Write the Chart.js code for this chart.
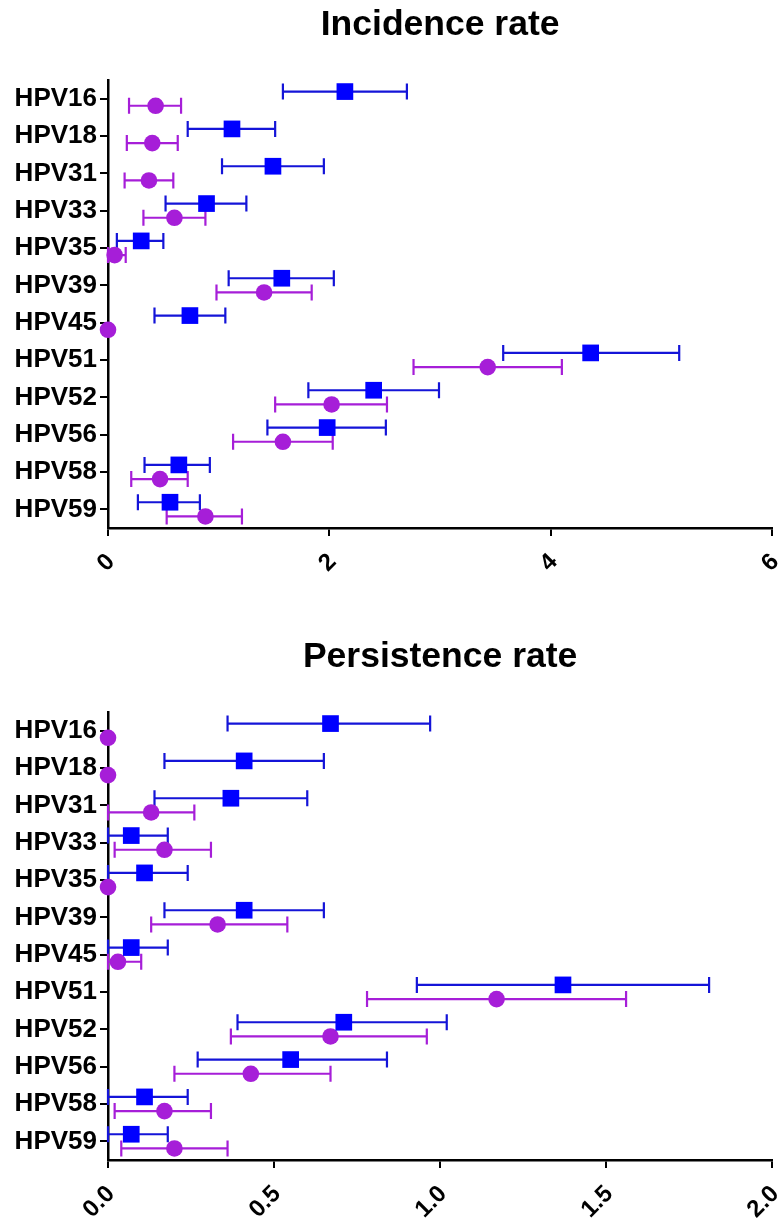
<!DOCTYPE html>
<html>
<head>
<meta charset="utf-8">
<script src="https://cdn.jsdelivr.net/npm/chart.js@4.4.1/dist/chart.umd.min.js"></script>
<style>
  html, body { margin: 0; padding: 0; background: #fff; }
  #wrap { position: relative; width: 784px; height: 1218px; overflow: hidden; }
  .panel { position: absolute; left: 0; width: 784px; }
</style>
</head>
<body>
<div id="wrap">
  <div class="panel" style="top:0;height:630px"><canvas id="incidence" width="784" height="630"></canvas></div>
  <div class="panel" style="top:630px;height:588px"><canvas id="persistence" width="784" height="588"></canvas></div>
</div>
<script>
// HPV genotypes, top to bottom
const genotypes = ['HPV16', 'HPV18', 'HPV31', 'HPV33', 'HPV35', 'HPV39', 'HPV45', 'HPV51', 'HPV52', 'HPV56', 'HPV58', 'HPV59'];

// Incidence rate: estimate with lower / upper limits (null = no interval)
const incBlue      = [2.14, 1.12, 1.49, 0.89, 0.30, 1.57, 0.74, 4.36, 2.40, 1.98, 0.64, 0.56];
const incBlueLow   = [1.58, 0.72, 1.03, 0.52, 0.08, 1.09, 0.42, 3.57, 1.81, 1.44, 0.33, 0.27];
const incBlueHigh  = [2.70, 1.51, 1.95, 1.25, 0.50, 2.04, 1.06, 5.16, 2.99, 2.51, 0.92, 0.83];
const incPurple     = [0.43, 0.40, 0.37, 0.60, 0.06, 1.41, 0.00, 3.43, 2.02, 1.58, 0.47, 0.88];
const incPurpleLow  = [0.19, 0.17, 0.15, 0.32, 0.00, 0.98, null, 2.76, 1.51, 1.13, 0.21, 0.53];
const incPurpleHigh = [0.66, 0.63, 0.59, 0.88, 0.16, 1.84, null, 4.10, 2.52, 2.03, 0.72, 1.21];

// Persistence rate
const perBlue      = [0.67, 0.41, 0.37, 0.07, 0.11, 0.41, 0.07, 1.37, 0.71, 0.55, 0.11, 0.07];
const perBlueLow   = [0.36, 0.17, 0.14, 0.00, 0.00, 0.17, 0.00, 0.93, 0.39, 0.27, 0.00, 0.00];
const perBlueHigh  = [0.97, 0.65, 0.60, 0.18, 0.24, 0.65, 0.18, 1.81, 1.02, 0.84, 0.24, 0.18];
const perPurple     = [0.00, 0.00, 0.13, 0.17, 0.00, 0.33, 0.03, 1.17, 0.67, 0.43, 0.17, 0.20];
const perPurpleLow  = [null, null, 0.00, 0.02, null, 0.13, 0.00, 0.78, 0.37, 0.20, 0.02, 0.04];
const perPurpleHigh = [null, null, 0.26, 0.31, null, 0.54, 0.10, 1.56, 0.96, 0.67, 0.31, 0.36];

// X axis ticks
const incTicks = [0, 2, 4, 6];
const perTicks = [0.0, 0.5, 1.0, 1.5, 2.0];

const BLUE = '#0000ff';
const BLUE_LINE = '#1414d8';
const PURPLE = '#a61ed8';
const ROW_SHIFT = 0.19; // vertical split of the two groups inside a row

const FONT = "'Liberation Sans', Arial, Helvetica, sans-serif";

// Horizontal error bars with end caps, drawn underneath the markers
const errorBars = {
  id: 'errorBars',
  beforeDatasetsDraw(chart) {
    const ctx = chart.ctx;
    const xs = chart.scales.x;
    chart.data.datasets.forEach((ds, di) => {
      const meta = chart.getDatasetMeta(di);
      ctx.save();
      ctx.strokeStyle = ds.barColor;
      ctx.lineWidth = 2.2;
      meta.data.forEach((pt, i) => {
        const lo = ds.low[i], hi = ds.high[i];
        if (lo == null || hi == null) return;
        const y = pt.y;
        const x0 = xs.getPixelForValue(lo);
        const x1 = xs.getPixelForValue(hi);
        ctx.beginPath();
        ctx.moveTo(x0, y); ctx.lineTo(x1, y);
        ctx.moveTo(x0, y - 8); ctx.lineTo(x0, y + 8);
        ctx.moveTo(x1, y - 8); ctx.lineTo(x1, y + 8);
        ctx.stroke();
      });
      ctx.restore();
    });
  }
};

function points(values, shift) {
  return values.map((v, i) => ({ x: v, y: i + shift }));
}

function makeChart(id, title, ticks, fmt, blue, blueLow, blueHigh, purple, purpleLow, purpleHigh, xAxisHeight, titlePad) {
  const max = ticks[ticks.length - 1];
  return new Chart(document.getElementById(id), {
    type: 'scatter',
    data: {
      datasets: [
        {
          data: points(blue, -ROW_SHIFT),
          low: blueLow, high: blueHigh, barColor: BLUE_LINE,
          pointStyle: 'rect', pointRadius: 11.8, pointHoverRadius: 11.8,
          backgroundColor: BLUE, borderColor: BLUE, borderWidth: 0,
          clip: false
        },
        {
          data: points(purple, ROW_SHIFT),
          low: purpleLow, high: purpleHigh, barColor: PURPLE,
          pointStyle: 'circle', pointRadius: 8.3, pointHoverRadius: 8.3,
          backgroundColor: PURPLE, borderColor: PURPLE, borderWidth: 0,
          clip: false
        }
      ]
    },
    options: {
      responsive: false,
      animation: false,
      events: [],
      layout: { padding: { left: 0, right: 6, top: 0, bottom: 0 } },
      plugins: {
        legend: { display: false },
        tooltip: { enabled: false },
        title: {
          display: true,
          fullSize: false,
          text: title,
          color: '#000',
          font: { family: FONT, size: 35.5, weight: 'bold', lineHeight: 1.2 },
          padding: titlePad
        }
      },
      scales: {
        x: {
          type: 'linear',
          min: 0,
          max: max,
          afterBuildTicks: s => { s.ticks = ticks.map(v => ({ value: v })); },
          afterFit: s => { s.height = xAxisHeight; s.paddingLeft = 0; s.paddingRight = 0; },
          ticks: {
            color: '#000',
            font: { family: FONT, size: 24, weight: 'bold' },
            maxRotation: 45, minRotation: 45,
            padding: 12,
            labelOffset: 3,
            autoSkip: false,
            callback: v => fmt(v)
          },
          grid: { drawOnChartArea: false, drawTicks: true, tickLength: 8, color: '#000', lineWidth: 2 },
          border: { display: true, color: '#000', width: 2.5 }
        },
        y: {
          type: 'linear',
          reverse: true,
          min: -0.5,
          max: genotypes.length - 0.5,
          afterBuildTicks: s => { s.ticks = genotypes.map((_, i) => ({ value: i })); },
          afterFit: s => { s.width = 108; },
          ticks: {
            color: '#000',
            font: { family: FONT, size: 26, weight: 'bold' },
            padding: 3,
            autoSkip: false,
            callback: v => genotypes[v]
          },
          grid: { drawOnChartArea: false, drawTicks: true, tickLength: 8, color: '#000', lineWidth: 2 },
          border: { display: true, color: '#000', width: 2.5 }
        }
      }
    },
    plugins: [errorBars]
  });
}

makeChart('incidence', 'Incidence rate', incTicks, v => String(v),
  incBlue, incBlueLow, incBlueHigh, incPurple, incPurpleLow, incPurpleHigh, 102,
  { top: 4, bottom: 33.4 });

makeChart('persistence', 'Persistence rate', perTicks, v => Number(v).toFixed(1),
  perBlue, perBlueLow, perBlueHigh, perPurple, perPurpleLow, perPurpleHigh, 58,
  { top: 6, bottom: 33.4 });
</script>
</body>
</html>
